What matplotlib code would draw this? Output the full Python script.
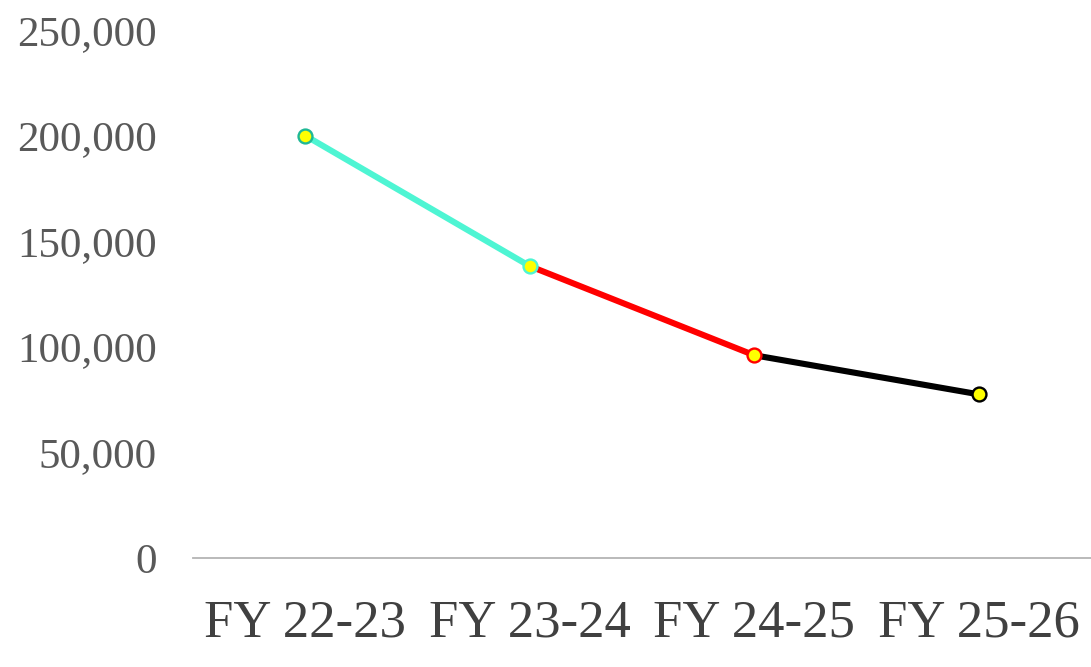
import matplotlib
matplotlib.use("Agg")
import matplotlib.pyplot as plt
from matplotlib.ticker import FuncFormatter

categories = ["FY 22-23", "FY 23-24", "FY 24-25", "FY 25-26"]
values = [200000, 138200, 96000, 77500]
segment_colors = ["#4EF5D3", "#FF0000", "#000000"]
marker_edge_colors = ["#1FB896", "#4EF5D3", "#FF0000", "#000000"]
y_ticks = [0, 50000, 100000, 150000, 200000, 250000]

plt.rcParams['font.family'] = ['Liberation Serif', 'DejaVu Serif']

fig = plt.figure(figsize=(10.91, 6.67), dpi=100)
ax = fig.add_axes([193/1091, 1 - 558/667, 1 - 193/1091, (558 - 30)/667])

x = list(range(len(categories)))
for i, c in enumerate(segment_colors):
    ax.plot(x[i:i+2], values[i:i+2], color=c, lw=4.4, solid_capstyle='butt', zorder=2)
for i in range(len(categories)):
    ax.plot([x[i]], [values[i]], marker='o', ms=10, mfc='#FFFF00',
            mec=marker_edge_colors[i], mew=1.7, ls='none', zorder=3)

ax.set_xlim(-0.5, 3.5)
ax.set_ylim(0, 250000)
ax.set_xticks(x)
ax.set_xticklabels(categories)
ax.set_yticks(y_ticks)
ax.yaxis.set_major_formatter(FuncFormatter(lambda v, p: f"{int(v):,}"))
for s in ['top', 'right', 'left']:
    ax.spines[s].set_visible(False)
ax.spines['bottom'].set_color('#b4b4b4')
ax.spines['bottom'].set_linewidth(1.3)
ax.tick_params(axis='y', length=0, pad=26, labelsize=31, labelcolor='#595959')
ax.tick_params(axis='x', length=0, pad=30, labelsize=38, labelcolor='#404040')
ax.set_facecolor('none')

fig.savefig("out.png", dpi=100, facecolor='white')
